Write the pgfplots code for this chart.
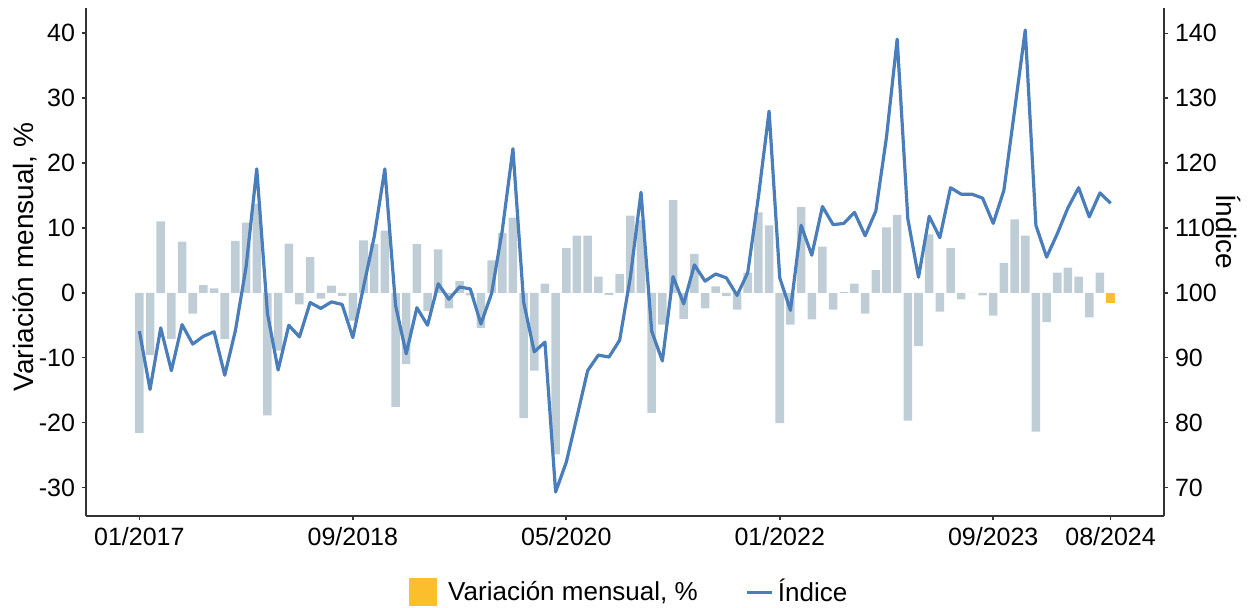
\documentclass[border=0pt]{standalone}
\usepackage{pgfplots}
\pgfplotsset{compat=1.18}
\usepackage{fontspec}
\setmainfont{Liberation Sans}
\definecolor{barcol}{HTML}{BFCED6}
\definecolor{linecol}{HTML}{4A7EBB}
\definecolor{lastbar}{HTML}{FBBF2D}
\definecolor{axcol}{HTML}{333333}

% monthly change, %  (month 0 = 01/2017)
\newcommand{\bardata}{
(0,-21.6) (1,-9.6) (2,11.0) (3,-7.1) (4,7.9) (5,-3.2) (6,1.2) (7,0.7) (8,-7.1) (9,8.0)
(10,10.8) (11,13.7) (12,-18.9) (13,-8.9) (14,7.6) (15,-1.8) (16,5.5) (17,-0.9) (18,1.1) (19,-0.5)
(20,-4.3) (21,8.1) (22,7.5) (23,9.6) (24,-17.6) (25,-11.0) (26,7.5) (27,-2.8) (28,6.7) (29,-2.4)
(30,1.8) (31,-0.4) (32,-5.4) (33,5.0) (34,9.2) (35,11.6) (36,-19.3) (37,-12.0) (38,1.4) (39,-24.9)
(40,6.9) (41,8.8) (42,8.8) (43,2.5) (44,-0.3) (45,2.9) (46,11.9) (47,11.2) (48,-18.5) (49,-4.9)
(50,14.3) (51,-4.0) (52,6.0) (53,-2.4) (54,1.0) (55,-0.5) (56,-2.6) (57,3.1) (58,12.4) (59,10.4)
(60,-20.1) (61,-4.9) (62,13.2) (63,-4.1) (64,7.1) (65,-2.6) (66,0.1) (67,1.4) (68,-3.2) (69,3.5)
(70,10.1) (71,12.0) (72,-19.7) (73,-8.2) (74,9.0) (75,-2.9) (76,6.9) (77,-1.0) (78,0.0) (79,-0.4)
(80,-3.5) (81,4.6) (82,11.3) (83,8.8) (84,-21.4) (85,-4.5) (86,3.1) (87,3.9) (88,2.5) (89,-3.8)
(90,3.1)
}
% index
\newcommand{\linedata}{
(0,94.1) (1,85.1) (2,94.6) (3,88.0) (4,95.1) (5,92.1) (6,93.3) (7,94.0) (8,87.3) (9,94.2)
(10,104.0) (11,119.1) (12,96.8) (13,88.1) (14,95.0) (15,93.2) (16,98.5) (17,97.6) (18,98.6) (19,98.2)
(20,93.1) (21,100.9) (22,108.6) (23,119.1) (24,98.1) (25,90.6) (26,97.7) (27,95.0) (28,101.4) (29,99.0)
(30,100.9) (31,100.6) (32,95.2) (33,99.9) (34,109.6) (35,122.2) (36,98.6) (37,90.9) (38,92.4) (39,69.3)
(40,73.9) (41,80.9) (42,88.0) (43,90.4) (44,90.1) (45,92.7) (46,102.4) (47,115.5) (48,94.1) (49,89.5)
(50,102.5) (51,98.3) (52,104.3) (53,101.8) (54,102.9) (55,102.3) (56,99.6) (57,103.1) (58,114.8) (59,128.0)
(60,102.3) (61,97.3) (62,110.4) (63,105.8) (64,113.3) (65,110.5) (66,110.7) (67,112.4) (68,108.8) (69,112.6)
(70,124.0) (71,139.1) (72,111.4) (73,102.4) (74,111.8) (75,108.5) (76,116.2) (77,115.2) (78,115.2) (79,114.6)
(80,110.7) (81,115.8) (82,128.1) (83,140.5) (84,110.4) (85,105.5) (86,109.1) (87,113.1) (88,116.2) (89,111.7)
(90,115.4) (91,113.8)
}

\pgfplotsset{
  base/.style={
    width=539pt, height=254pt, scale only axis,
    at={(0,0)}, anchor=south west,
    xmin=-5, xmax=96,
    axis line style={draw=axcol, line width=1pt},
    tick style={draw=axcol, line width=0.8pt},
    tick align=outside, major tick length=2pt,
    ticklabel style={font=\fontsize{12.5}{14}\selectfont, text=black},
  }
}

\begin{document}
\begin{tikzpicture}
\path[use as bounding box] (-43pt,-46pt) rectangle (584.5pt,258pt);

\begin{axis}[base,
  ymin=-34.4, ymax=43.9,
  axis x line*=bottom, axis y line*=left,
  xtick={0,20,40,60,80,91},
  xticklabels={01/2017,09/2018,05/2020,01/2022,09/2023,08/2024},
  ytick={-30,-20,-10,0,10,20,30,40},
  yticklabels={-30,-20,-10,0,10,20,30,40},
  ylabel={Variación mensual, \%},
  ylabel style={at={(axis description cs:-0.057,0.51)}, anchor=center,
    font=\fontsize{14}{16}\selectfont},
]
\addplot[ybar, bar width=0.8, bar shift=0pt, fill=barcol, draw=none] coordinates {\bardata};
\addplot[ybar, bar width=0.8, bar shift=0pt, fill=lastbar, draw=none] coordinates {(91,-1.5)};
\end{axis}

\begin{axis}[base,
  ymin=65.6, ymax=143.9,
  axis x line=none, axis y line*=right,
  ytick={70,80,90,100,110,120,130,140},
  yticklabels={70,80,90,100,110,120,130,140},
  ylabel={Índice},
  ylabel style={at={(axis description cs:1.06,0.56)}, anchor=center, rotate=-180,
    font=\fontsize{14}{16}\selectfont},
  legend columns=2,
  legend style={at={(axis description cs:0.505,-0.15)}, anchor=center, draw=none,
    font=\fontsize{13}{15}\selectfont,
    /tikz/every even column/.append style={column sep=22pt}},
]
\addlegendimage{legend image code/.code={\fill[lastbar] (0pt,-6.75pt) rectangle (13.5pt,6.75pt); \path (17pt,0pt);}}
\addlegendentry{Variación mensual, \%}
\addplot[color=linecol, line width=1.6pt, line join=round,
  legend image code/.code={\draw[linecol, line width=1.6pt] (0pt,0pt) -- (12.5pt,0pt);}]
  coordinates {\linedata};
\addlegendentry{Índice}
\end{axis}
\end{tikzpicture}
\end{document}
